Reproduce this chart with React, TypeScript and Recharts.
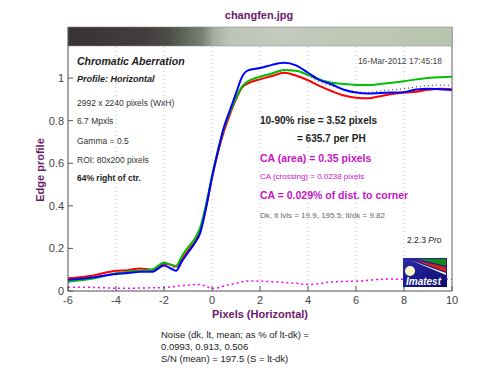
import React from 'react';
import { LineChart, Line, XAxis, YAxis, CartesianGrid } from 'recharts';

const xPos = [-6, -5.5, -5, -4.5, -4, -3.5, -3, -2.5, -2, -1.75, -1.5, -1.25, -1, -0.75, -0.5, -0.25, 0, 0.25, 0.5, 0.75, 1, 1.25, 1.5, 2, 2.5, 3, 3.5, 4, 4.5, 5, 5.5, 6, 6.5, 7, 7.5, 8, 8.5, 9, 9.5, 10];

const redEdge = [0.060, 0.065, 0.072, 0.085, 0.095, 0.098, 0.106, 0.100, 0.128, 0.125, 0.115, 0.150, 0.190, 0.225, 0.280, 0.390, 0.530, 0.650, 0.750, 0.830, 0.900, 0.955, 0.975, 0.994, 1.010, 1.025, 1.012, 0.990, 0.962, 0.938, 0.918, 0.908, 0.905, 0.915, 0.925, 0.932, 0.936, 0.945, 0.950, 0.948];
const greenEdge = [0.044, 0.050, 0.057, 0.070, 0.083, 0.090, 0.096, 0.100, 0.134, 0.125, 0.118, 0.165, 0.205, 0.240, 0.295, 0.405, 0.540, 0.660, 0.765, 0.840, 0.905, 0.960, 0.985, 1.006, 1.022, 1.038, 1.035, 1.015, 0.992, 0.978, 0.972, 0.968, 0.967, 0.972, 0.978, 0.985, 0.994, 1.000, 1.004, 1.006];
const blueEdge = [0.052, 0.057, 0.063, 0.072, 0.080, 0.084, 0.090, 0.090, 0.120, 0.108, 0.095, 0.140, 0.180, 0.220, 0.270, 0.390, 0.535, 0.660, 0.770, 0.850, 0.928, 1.005, 1.036, 1.047, 1.062, 1.072, 1.060, 1.025, 0.990, 0.970, 0.945, 0.932, 0.928, 0.930, 0.932, 0.934, 0.947, 0.950, 0.948, 0.944];
const meanEdge = [0.052, 0.057, 0.063, 0.074, 0.084, 0.090, 0.096, 0.097, 0.127, 0.119, 0.109, 0.152, 0.192, 0.228, 0.282, 0.395, 0.535, 0.657, 0.762, 0.840, 0.905, 0.960, 0.985, 1.004, 1.020, 1.035, 1.032, 1.010, 0.981, 0.962, 0.945, 0.936, 0.933, 0.939, 0.945, 0.950, 0.959, 0.965, 0.967, 0.966];
const caDiff = [0.018, 0.018, 0.017, 0.015, 0.013, 0.013, 0.014, 0.015, 0.016, 0.019, 0.022, 0.025, 0.028, 0.030, 0.030, 0.022, 0.012, 0.015, 0.024, 0.030, 0.036, 0.043, 0.047, 0.046, 0.043, 0.040, 0.036, 0.030, 0.035, 0.043, 0.045, 0.046, 0.050, 0.055, 0.056, 0.055, 0.055, 0.054, 0.055, 0.055];

const xTicks = [-6, -4, -2, 0, 2, 4, 6, 8, 10];
const yTicks = [0, 0.2, 0.4, 0.6, 0.8, 1];

const infoLines = ['2992 x 2240 pixels (WxH)', '6.7 Mpxls', 'Gamma = 0.5', 'ROI: 80x200 pixels'];
const noiseLines = ['Noise (dk, lt, mean; as % of lt-dk) =', '0.0993,  0.913,  0.506', 'S/N (mean) = 197.5  (S = lt-dk)'];

const data = xPos.map((x, i) => ({
  x,
  red: redEdge[i],
  green: greenEdge[i],
  blue: blueEdge[i],
  mean: meanEdge[i],
  ca: caDiff[i],
}));

const font = '"Liberation Sans", Arial, sans-serif';
const purple = '#6b1a6b';
const magenta = '#c814c8';

const App = () => {
  return (
    <div style={{ position: 'absolute', left: 0, top: 0, width: 500, height: 384, background: '#fff', fontFamily: font }}>
      <LineChart
        width={500}
        height={384}
        data={data}
        margin={{ top: 27, right: 40, left: 28, bottom: 63 }}
      >
        <CartesianGrid stroke="#c8c8c8" strokeDasharray="1 3" />
        <XAxis
          dataKey="x"
          type="number"
          domain={[-6, 10]}
          ticks={xTicks}
          height={30}
          tickSize={-5}
          tickMargin={10}
          stroke="#555"
          tick={{ fill: '#444', fontSize: 11, fontFamily: font }}
        />
        <YAxis
          yAxisId="l"
          type="number"
          domain={[0, 1.24]}
          ticks={yTicks}
          width={40}
          tickSize={-5}
          tickMargin={9}
          stroke="#555"
          tick={{ fill: '#444', fontSize: 11, fontFamily: font }}
        />
        <YAxis
          yAxisId="r"
          orientation="right"
          type="number"
          domain={[0, 1.24]}
          ticks={yTicks}
          width={8}
          tickSize={-5}
          tickFormatter={() => ''}
          stroke="#666"
        />
        <Line yAxisId="l" dataKey="mean" stroke="#222" strokeWidth={1} strokeDasharray="1 3" dot={false} type="monotone" isAnimationActive={false} />
        <Line yAxisId="l" dataKey="red" stroke="#ff0000" strokeWidth={2} dot={false} type="monotone" isAnimationActive={false} />
        <Line yAxisId="l" dataKey="green" stroke="#00c000" strokeWidth={2} dot={false} type="monotone" isAnimationActive={false} />
        <Line yAxisId="l" dataKey="blue" stroke="#0000ff" strokeWidth={2} dot={false} type="monotone" isAnimationActive={false} />
        <Line yAxisId="l" dataKey="ca" stroke="#ff00ff" strokeWidth={1.5} strokeDasharray="2 3" dot={false} type="monotone" isAnimationActive={false} />
      </LineChart>

      <svg width={500} height={384} style={{ position: 'absolute', left: 0, top: 0, pointerEvents: 'none' }}>
        <defs>
          <linearGradient id="edgeStrip" x1="0" x2="1" y1="0" y2="0">
            <stop offset="0" stopColor="#383234" />
            <stop offset="0.2" stopColor="#423e3e" />
            <stop offset="0.26" stopColor="#4c4c46" />
            <stop offset="0.3" stopColor="#5e6458" />
            <stop offset="0.35" stopColor="#7a8072" />
            <stop offset="0.38" stopColor="#a6ae9e" />
            <stop offset="0.42" stopColor="#bcc4b6" />
            <stop offset="0.55" stopColor="#c4cabc" />
            <stop offset="1" stopColor="#b8c4ae" />
          </linearGradient>
          <linearGradient id="logoBg" x1="0" x2="1" y1="0" y2="1">
            <stop offset="0" stopColor="#2a2aa8" />
            <stop offset="1" stopColor="#0a0a70" />
          </linearGradient>
        </defs>

        <text x={259} y={19} textAnchor="middle" fontSize={11} fontWeight="bold" fill={purple}>changfen.jpg</text>
        <rect x={68} y={27} width={384} height={19} fill="url(#edgeStrip)" stroke="#888" strokeWidth={0.5} />

        <text x={77} y={65} fontSize={10.5} fontWeight="bold" fontStyle="italic" fill="#222">Chromatic Aberration</text>
        <text x={77} y={82} fontSize={9} fontWeight="bold" fontStyle="italic" fill="#222">Profile: Horizontal</text>
        {infoLines.map((t, i) => (
          <text key={t} x={77} y={[106, 124, 144, 163][i]} fontSize={8.5} fill="#333">{t}</text>
        ))}
        <text x={77} y={181} fontSize={8.5} fontWeight="bold" fill="#222">64% right of ctr.</text>
        <text x={442} y={64} textAnchor="end" fontSize={8.5} fill="#444">16-Mar-2012 17:45:18</text>

        <text x={260} y={124} fontSize={10} fontWeight="bold" fill="#222">10-90% rise = 3.52 pixels</text>
        <text x={297} y={142} fontSize={10} fontWeight="bold" fill="#222">= 635.7 per PH</text>
        <text x={260} y={162} fontSize={10.5} fontWeight="bold" fill={magenta}>CA (area) = 0.35 pixels</text>
        <text x={260} y={179} fontSize={8} fill={magenta}>CA (crossing) = 0.0238 pixels</text>
        <text x={260} y={199} fontSize={10.5} fontWeight="bold" fill={magenta}>CA = 0.029% of dist. to corner</text>
        <text x={260} y={218} fontSize={8} fill="#666">Dk, lt lvls = 19.9, 195.5;  lt/dk = 9.82</text>
        <text x={407} y={243} fontSize={8.5} fill="#222">2.2.3  <tspan fontStyle="italic">Pro</tspan></text>

        <rect x={403} y={258} width={44} height={29} fill="url(#logoBg)" />
        <polygon points="418,259 446,259 446,266" fill="#138a13" />
        <polygon points="414,260 446,267 446,272" fill="#d62020" />
        <polygon points="410,260 446,273 446,275" fill="#f0f0f0" />
        <circle cx={410} cy={271} r={5} fill="#fffbc8" />
        <text x={406} y={285} fontSize={10} fontWeight="bold" fontStyle="italic" fill="#fff">Imatest</text>

        <text x={260} y={318} textAnchor="middle" fontSize={11} fontWeight="bold" fill={purple}>Pixels (Horizontal)</text>
        <text x={0} y={0} transform="translate(44,170) rotate(-90)" textAnchor="middle" fontSize={11} fontWeight="bold" fill={purple}>Edge profile</text>

        {noiseLines.map((t, i) => (
          <text key={t} x={161} y={338 + i * 12} fontSize={9.5} fill="#222">{t}</text>
        ))}
      </svg>
    </div>
  );
};

export default App;
